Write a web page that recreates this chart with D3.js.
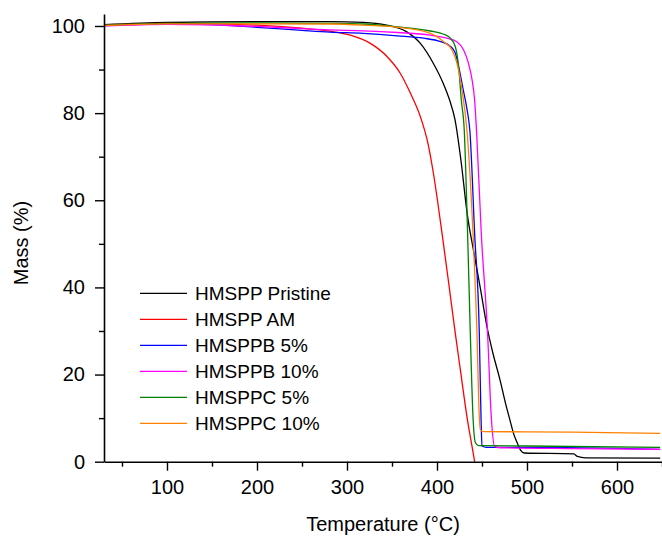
<!DOCTYPE html>
<html>
<head>
<meta charset="utf-8">
<script src="https://cdn.jsdelivr.net/npm/d3@7"></script>
<style>
  html, body { margin: 0; padding: 0; background: #fff; }
  svg { display: block; }
  text { font-family: "Liberation Sans", Arial, sans-serif; fill: #000; }
</style>
</head>
<body>
<svg id="chart" width="662" height="536"></svg>
<script>
// ---- data (temperature °C, mass %) ----
const seriesNames = ["HMSPP Pristine", "HMSPP AM", "HMSPPB 5%", "HMSPPB 10%", "HMSPPC 5%", "HMSPPC 10%"];
const seriesColors = ["#000000", "#ff0000", "#0000ff", "#ff00ff", "#008000", "#ff8000"];

const pristine = [[30,100.3],[100,100.8],[200,101.0],[281,101.0],[318,100.85],[344,100.2],[366,98.7],[381.5,96],[396,91.4],[407,86.8],[414,83],[420,78.5],[427,68.5],[433.5,57],[441,48],[448,40],[455.5,31],[462,25],[470,18.8],[476,13.5],[481,9.6],[485,6.5],[489,4.4],[493,2.6],[497,2.0],[552,1.8],[556,1.2],[565,0.9],[648,0.8]];
const am = [[30,100.2],[100,100.6],[200,100.2],[250,99.5],[281,98.8],[303.7,97.9],[326,96],[344.4,93],[359.3,89.1],[370.4,84.6],[381.5,79.2],[390,73],[396,66.2],[405.6,52.4],[413,41],[420.3,29.5],[426,21],[433.3,10.3],[441.8,0],[444,-3]];
const b5 = [[30,100.1],[100,100.5],[150,100.3],[200,99.7],[250,99.0],[281,98.6],[318,98.3],[356,97.75],[385,97.2],[404,96.4],[415,95.3],[420.3,93.8],[424,90.7],[429,85.5],[433.5,80.7],[436.5,76],[441.8,52.4],[447,29.5],[448.9,10.3],[450,3.6],[455,3.3],[500,3.3],[648,2.85]];
const b10 = [[30,100.0],[100,100.4],[200,99.9],[250,99.4],[281,99.1],[318,98.9],[356,98.5],[392.6,97.9],[411,97.2],[422,96.4],[429.6,94.5],[435,91.4],[439,87.6],[441.8,83],[443.9,76],[449.2,52.4],[456.2,29.5],[460.3,10.3],[464,3.5],[470,3.2],[550,3.0],[648,2.85]];
const c5 = [[30,100.2],[100,100.6],[200,100.7],[281,100.6],[318,100.45],[356,99.8],[392.6,98.85],[407.4,98.1],[414.8,97.2],[420.3,95.3],[424,90.7],[427,83],[430.3,76],[434,52.4],[437,29.5],[440,10.3],[442.6,4.4],[446,3.7],[500,3.6],[648,3.3]];
const c10 = [[30,100.1],[100,100.5],[200,100.5],[281,100.45],[318,100.2],[356,99.7],[392.6,98.3],[407.4,96.4],[416.7,94.5],[422.2,91.4],[427.8,85.3],[433.3,76],[440,52.4],[444.4,29.5],[447,10.3],[448.3,7.3],[452,6.9],[550,6.8],[648,6.5]];
const seriesData = [pristine, am, b5, b10, c5, c10];

const xTicks = [100, 200, 300, 400, 500, 600];
const xMinorTicks = [50, 150, 250, 350, 450, 550, 650];
const yTicks = [0, 20, 40, 60, 80, 100];
const yMinorTicks = [10, 30, 50, 70, 90];

// ---- layout ----
const svg = d3.select("#chart");
const padL = 104, padR = 662, padT = 14, padB = 461.7;
const x = d3.scaleLinear().domain([30, 650]).range([padL, padR]);
const y = d3.scaleLinear().domain([0, 102.75]).range([padB, padT]);

svg.append("defs").append("clipPath").attr("id", "clip")
  .append("rect").attr("x", padL).attr("y", padT).attr("width", padR - padL).attr("height", padB - padT);

// curves
const line = d3.line().x(d => x(d[0])).y(d => y(d[1])).curve(d3.curveMonotoneX);
const g = svg.append("g").attr("clip-path", "url(#clip)");
seriesData.forEach((s, i) => {
  g.append("path").datum(s).attr("d", line)
    .attr("fill", "none").attr("stroke", seriesColors[i]).attr("stroke-width", 1.3);
});

// axes
svg.append("g").attr("transform", `translate(0,${padB})`)
  .call(d3.axisBottom(x).tickValues(xTicks).tickSize(9).tickPadding(9).tickSizeOuter(0));
svg.append("g").attr("transform", `translate(0,${padB})`)
  .call(d3.axisBottom(x).tickValues(xMinorTicks).tickSize(5).tickFormat("").tickSizeOuter(0))
  .select(".domain").remove();
svg.append("g").attr("transform", `translate(${padL},0)`)
  .call(d3.axisLeft(y).tickValues(yTicks).tickSize(9).tickPadding(10).tickSizeOuter(0));
svg.append("g").attr("transform", `translate(${padL},0)`)
  .call(d3.axisLeft(y).tickValues(yMinorTicks).tickSize(5).tickFormat("").tickSizeOuter(0))
  .select(".domain").remove();

svg.selectAll(".domain").attr("stroke", "#000").attr("stroke-width", 1.6);
svg.selectAll(".tick line").attr("stroke", "#000").attr("stroke-width", 1.4);
svg.selectAll(".tick text").attr("font-size", 20).attr("font-family", '"Liberation Sans", Arial, sans-serif').attr("fill", "#000");

// axis titles
svg.append("text").attr("x", 383).attr("y", 531).attr("text-anchor", "middle")
  .attr("font-size", 20).text("Temperature (°C)");
svg.append("text").attr("transform", "translate(28,243) rotate(-90)").attr("text-anchor", "middle")
  .attr("font-size", 20).text("Mass (%)");

// legend
const legend = svg.append("g");
seriesNames.forEach((name, i) => {
  const ly = 293.3 + i * 26;
  legend.append("line").attr("x1", 140).attr("x2", 187).attr("y1", ly).attr("y2", ly)
    .attr("stroke", seriesColors[i]).attr("stroke-width", 1.3);
  legend.append("text").attr("x", 195).attr("y", ly + 7).attr("font-size", 19).text(name);
});
</script>
</body>
</html>
